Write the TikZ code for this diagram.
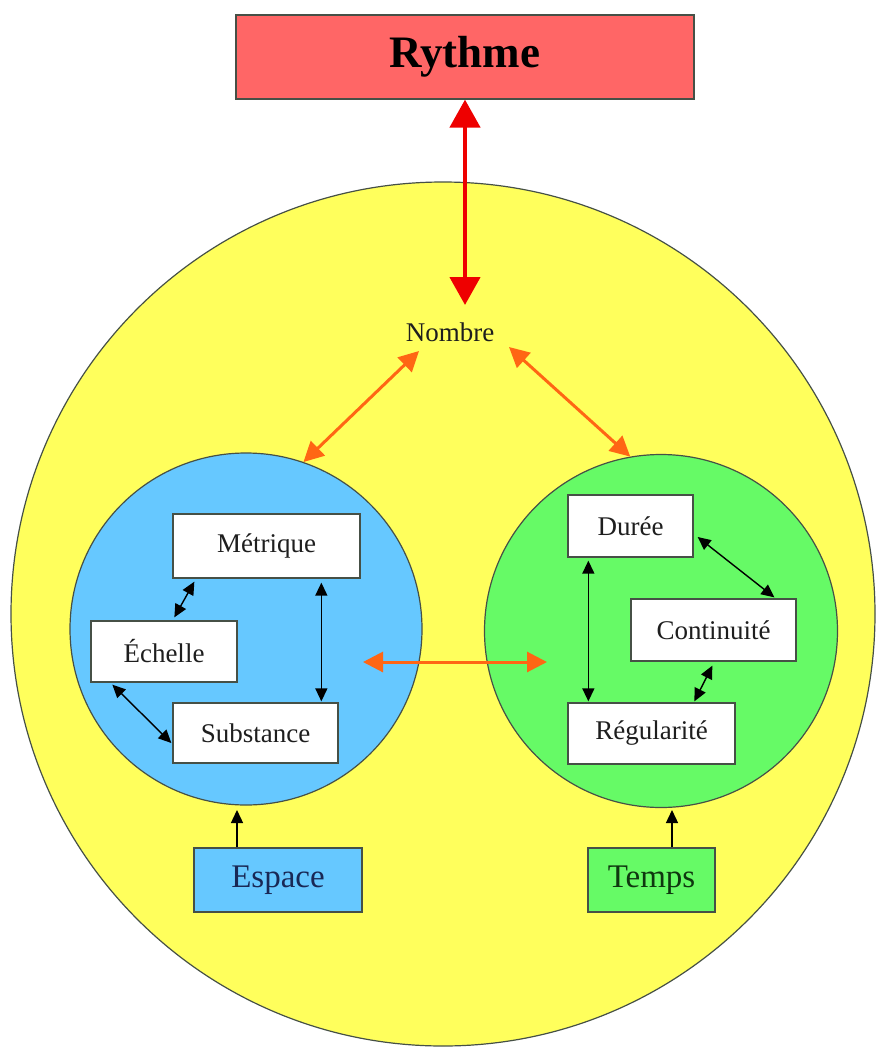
\documentclass[tikz,border=0pt]{standalone}
\usepackage{fontspec}
\setmainfont{Liberation Serif}
\usetikzlibrary{arrows.meta,calc}
\definecolor{ryth}{RGB}{255,102,102}
\definecolor{yel}{RGB}{255,255,92}
\definecolor{blu}{RGB}{102,200,255}
\definecolor{grn}{RGB}{102,250,102}
\definecolor{org}{RGB}{255,102,20}
\definecolor{redarr}{RGB}{238,0,0}
\definecolor{edge}{RGB}{70,80,70}
\definecolor{navy}{RGB}{25,40,85}
\definecolor{dgreen}{RGB}{15,55,15}
\definecolor{txt}{RGB}{30,30,30}
\tikzset{
  inbox/.style={draw=edge, line width=1.3pt, fill=white, inner sep=0pt, text=txt, font=\fontsize{27}{30}\selectfont},
  bigcirc/.style={circle, draw=edge, line width=1.2pt, inner sep=0pt},
  blk/.style={draw=black, line width=1.4pt, {Triangle[length=13pt,width=12pt]}-{Triangle[length=13pt,width=12pt]}},
  blkone/.style={draw=black, line width=1.4pt, -{Triangle[length=13pt,width=12pt]}},
  orng/.style={draw=org, line width=3pt, {Triangle[length=20pt,width=20pt]}-{Triangle[length=20pt,width=20pt]}},
  redd/.style={draw=redarr, line width=4.5pt, {Triangle[length=28pt,width=30pt]}-{Triangle[length=28pt,width=30pt]}},
  srcbox/.style={draw=edge, line width=1.5pt, inner sep=0pt, font=\fontsize{33}{36}\selectfont}
}
\begin{document}
\begin{tikzpicture}[x=1pt,y=-1pt]
\useasboundingbox (0,0) rectangle (876,1050);
% big yellow circle
\node[bigcirc, fill=yel, minimum size=864pt] (world) at (443,614) {};
% title
\node[draw=edge, line width=1.2pt, fill=ryth, minimum width=458pt, minimum height=84pt, inner sep=0pt,
      font=\fontsize{45}{50}\selectfont\bfseries] (ryt) at (465,57) {Rythme};
% Nombre
\node[font=\fontsize{27}{30}\selectfont, text=txt, inner sep=0pt] (nom) at (450,332) {Nombre};
% inner circles
\node[bigcirc, fill=blu, minimum size=352pt] (esc) at (246,629) {};
\node[bigcirc, fill=grn, minimum size=353pt] (tpc) at (661,631) {};
% boxes in blue circle
\node[inbox, minimum width=187pt, minimum height=64pt] (met) at (266.5,546) {M\'etrique};
\node[inbox, minimum width=146pt, minimum height=61pt] (ech) at (164,651.5) {\'Echelle};
\node[inbox, minimum width=165pt, minimum height=60pt] (sub) at (255.5,733) {Substance};
% boxes in green circle
\node[inbox, minimum width=125pt, minimum height=62pt] (dur) at (630.5,526) {Dur\'ee};
\node[inbox, minimum width=165pt, minimum height=62pt] (con) at (713.5,630) {Continuit\'e};
\node[inbox, minimum width=167pt, minimum height=61pt] (reg) at (651.5,733.5) {R\'egularit\'e};
% source boxes
\node[srcbox, fill=blu, text=navy, minimum width=168pt, minimum height=64pt] (esp) at (278,880) {Espace};
\node[srcbox, fill=grn, text=dgreen, minimum width=127pt, minimum height=64pt] (tmp) at (651.5,880) {Temps};
% coordinates
\coordinate (redtip) at (465,305);
\coordinate (nl) at (419,351);
\coordinate (nr) at (509,347);
\coordinate (hl) at (363,662);
\coordinate (hr) at (547,662);
\coordinate (ea) at (237,810);
\coordinate (ta) at (672,810);
% red arrow
\draw[redd] (ryt.south -| redtip) -- (redtip);
% orange arrows
\draw[orng] (nl) -- (esc.71);
\draw[orng] (nr) -- (tpc.100);
\draw[orng] (hl) -- (hr);
% black arrows blue circle
\draw[blk] ([xshift=22pt,yshift=-3pt]met.south west) -- ([xshift=84pt,yshift=3pt]ech.north west);
\draw[blk] ([xshift=149pt,yshift=-4pt]met.south west) -- ([xshift=149pt,yshift=1pt]sub.north west);
\draw[blk] ([xshift=22pt,yshift=-2pt]ech.south west) -- ([yshift=-10pt,xshift=-1pt]sub.west);
% black arrows green circle
\draw[blk] ([xshift=21pt,yshift=-3pt]dur.south west) -- ([xshift=21pt,yshift=1pt]reg.north west);
\draw[blk] ([xshift=4pt,yshift=-11pt]dur.east) -- ([xshift=144pt,yshift=1pt]con.north west);
\draw[blk] ([xshift=82pt,yshift=-4pt]con.south west) -- ([xshift=127pt,yshift=1pt]reg.north west);
% source arrows
\draw[blkone] (esp.north -| ea) -- (ea);
\draw[blkone] (tmp.north -| ta) -- (ta);
\end{tikzpicture}
\end{document}
